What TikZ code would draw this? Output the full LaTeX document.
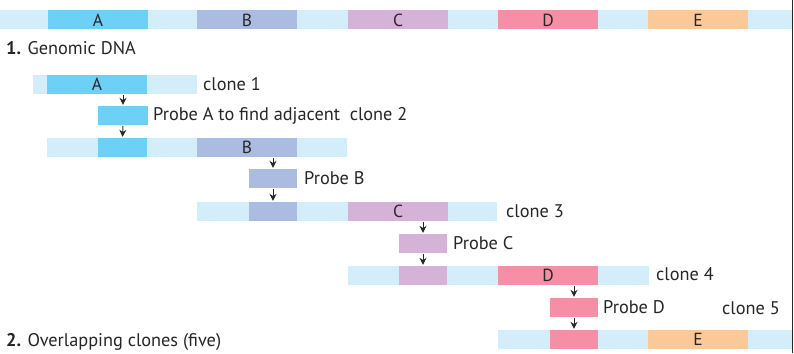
\documentclass[tikz,border=0pt]{standalone}
\usepackage{fontspec}
\setmainfont{PT Sans}
\usetikzlibrary{arrows.meta}
\definecolor{lt}{HTML}{D3EEF9}
\definecolor{cA}{HTML}{6DD0F5}
\definecolor{cB}{HTML}{ABBCE0}
\definecolor{cC}{HTML}{D5B3D6}
\definecolor{cD}{HTML}{F48FA5}
\definecolor{cE}{HTML}{FBC899}
\definecolor{tx}{HTML}{262626}
\newcommand\seg[6]{\node[segbox,fill=#5,minimum width={(#3-#2)*1pt}] (#1) at ({(#2+#3)/2},{#4+9.5}) {#6};}
\begin{document}
\begin{tikzpicture}[x=1pt,y=-1pt,
  segbox/.style={rectangle,inner sep=0pt,minimum height=19pt,text=tx,font=\fontsize{17.5}{17.5}\selectfont},
  lbl/.style={anchor=west,inner sep=0pt,text=tx,font=\fontsize{18.3}{18.3}\selectfont},
  arr/.style={-{Stealth[length=7pt,width=7pt]},line width=1pt,draw=tx,shorten >=1pt,shorten <=1pt}]
\useasboundingbox (0,0) rectangle (794,353);
% top genomic DNA bar
\seg{g}{0}{792}{10.5}{lt}{}
\seg{gA}{48}{148}{10.5}{cA}{A}
\seg{gB}{197}{297}{10.5}{cB}{B}
\seg{gC}{348}{448}{10.5}{cC}{C}
\seg{gD}{498}{598}{10.5}{cD}{D}
\seg{gE}{648}{748}{10.5}{cE}{E}
\node[lbl] (t1) at (6,48) {\textbf{1.} Genomic DNA};
% clone 1
\seg{c1}{33}{197}{75}{lt}{}
\seg{c1A}{47}{147}{75}{cA}{A}
\node[lbl] (c1t) at (203,84) {clone 1};
% probe A
\seg{pA}{98}{148}{106}{cA}{}
\node[lbl] (pAt) at (153,115.5) {Probe A to find adjacent\ \ clone 2};
% clone 2
\seg{c2}{47}{347}{138}{lt}{}
\seg{c2A}{98}{147}{138}{cA}{}
\seg{c2B}{197}{297}{138}{cB}{B}
% probe B
\seg{pB}{249}{297}{169}{cB}{}
\node[lbl] (pBt) at (304,178.5) {Probe B};
% clone 3
\seg{c3}{197}{497}{202}{lt}{}
\seg{c3B}{249}{297}{202}{cB}{}
\seg{c3C}{348}{448}{202}{cC}{C}
\node[lbl] (c3t) at (506,211) {clone 3};
% probe C
\seg{pC}{399}{447}{234}{cC}{}
\node[lbl] (pCt) at (453,243.5) {Probe C};
% clone 4
\seg{c4}{348}{649}{266}{lt}{}
\seg{c4C}{399}{447}{266}{cC}{}
\seg{c4D}{498}{598}{266}{cD}{D}
\node[lbl] (c4t) at (656,274.5) {clone 4};
% probe D
\seg{pD}{550}{598}{298}{cD}{}
\node[lbl] (pDt) at (603,307.5) {Probe D};
\node[lbl] (c5t) at (722,308.5) {clone 5};
% clone 5
\seg{c5}{498}{792}{330}{lt}{}
\seg{c5D}{550}{598}{330}{cD}{}
\seg{c5E}{648}{748}{330}{cE}{E}
\node[lbl] (t2) at (6,341.5) {\textbf{2.} Overlapping clones (five)};
% arrows
\draw[arr] (c1A.south -| pA) -- (pA.north);
\draw[arr] (pA.south) -- (c2A.north);
\draw[arr] (c2B.south -| pB) -- (pB.north);
\draw[arr] (pB.south) -- (c3B.north);
\draw[arr] (c3C.south -| pC) -- (pC.north);
\draw[arr] (pC.south) -- (c4C.north);
\draw[arr] (c4D.south -| pD) -- (pD.north);
\draw[arr] (pD.south) -- (c5D.north);
% right border line
\coordinate (r1) at (792.8,0);
\coordinate (r2) at (792.8,353);
\draw[line width=1pt,draw=tx] (r1) -- (r2);
\end{tikzpicture}
\end{document}
